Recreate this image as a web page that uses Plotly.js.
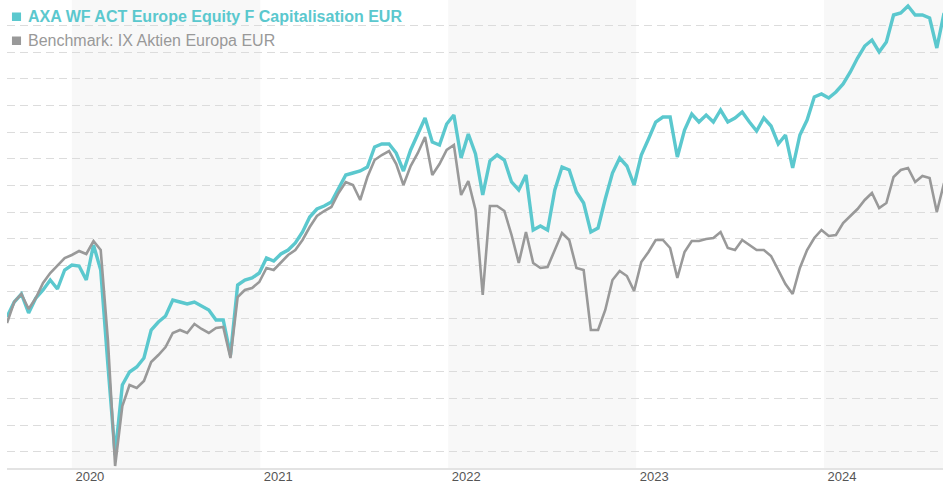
<!DOCTYPE html>
<html><head><meta charset="utf-8">
<script src="https://cdn.plot.ly/plotly-3.0.1.min.js"></script>
<style>html,body{margin:0;padding:0;background:#fff}#chart{width:943px;height:487px}</style>
</head><body><div id="chart"></div>
<script>
// Series: fortnightly index values (start = 100)
const startDate = [2019, 7, 28];   // 2019-08-28
const stepDays = 14;
const fundName = 'AXA WF ACT Europe Equity F Capitalisation EUR';
const benchName = 'Benchmark: IX Aktien Europa EUR';
const fundValues = [100.2,103.2,104.8,101.0,104.0,105.6,107.6,105.8,109.6,110.6,
 110.4,107.6,114.6,109.6,90.6,72.6,86.6,89.2,90.2,92.0,
 97.6,99.2,100.4,103.6,103.2,102.8,103.2,102.4,101.6,99.6,
 99.6,92.6,106.6,107.6,108.0,109.0,112.0,111.4,112.8,113.6,
 115.0,117.2,120.2,121.8,122.4,123.2,126.0,128.6,129.0,129.4,
 130.2,134.2,134.8,134.8,133.0,129.4,133.6,136.8,140.0,135.2,
 134.6,138.8,140.6,132.0,136.8,132.8,124.6,131.4,132.6,131.6,
 127.2,125.6,128.6,117.6,118.4,117.6,125.6,130.2,129.6,125.2,
 123.0,117.2,118.0,123.8,129.0,132.0,130.4,126.6,132.6,135.8,
 139.2,140.2,140.2,132.2,137.6,140.8,139.2,140.6,139.2,141.6,
 139.2,140.0,141.2,139.2,137.4,140.0,138.4,134.8,136.6,130.0,
 136.6,139.6,144.2,144.8,144.0,145.2,146.8,149.2,152.0,154.4,
 155.6,153.2,155.2,160.6,161.0,162.4,160.6,160.6,160.0,154.0,
 161.0];
const benchValues = [99.0,103.2,104.8,101.8,104.0,107.0,109.0,110.4,112.0,112.6,
 113.4,112.8,115.4,113.6,95.6,70.4,82.4,86.6,86.0,87.4,
 91.2,92.6,94.2,97.0,97.6,97.0,98.8,97.8,97.0,98.0,
 98.2,92.0,104.2,105.6,106.0,107.2,110.0,109.6,111.2,112.6,
 113.6,115.6,118.2,120.4,121.4,122.2,125.0,127.2,126.6,123.6,
 128.2,131.6,132.6,133.4,130.8,126.6,130.4,133.0,136.2,128.6,
 130.8,133.6,134.6,124.6,127.4,121.6,104.6,122.4,122.4,121.4,
 116.6,111.0,117.2,111.0,110.0,110.2,113.6,117.0,115.6,110.0,
 109.6,97.6,97.6,101.6,107.6,109.4,108.4,105.4,111.2,113.2,
 115.6,115.6,114.0,108.0,113.2,115.4,115.4,115.8,116.0,117.2,
 114.0,113.6,115.6,114.6,113.6,113.6,112.4,109.6,106.8,104.8,
 110.0,113.6,116.0,117.6,116.4,116.6,119.0,120.4,121.8,123.6,
 125.0,122.0,123.0,128.2,129.6,130.0,127.2,128.4,128.0,121.2,
 127.0];
const yearTicks = ['2020-01-01','2021-01-01','2022-01-01','2023-01-01','2024-01-01'];
const yearLabels = ['2020','2021','2022','2023','2024'];
const shadedYears = [['2020-01-01','2021-01-01'],['2022-01-01','2023-01-01'],['2024-01-01','2024-08-19']];
const xRange = ['2019-08-28','2024-08-19'];

const dates = fundValues.map((_, i) => {
  const d = new Date(Date.UTC(startDate[0], startDate[1], startDate[2]) + i * stepDays * 86400000);
  return d.toISOString().slice(0, 10);
});

const teal = '#5bc8ce';
const grey = '#999999';

const traces = [
  {x: dates, y: fundValues, type: 'scatter', mode: 'lines', name: fundName,
   line: {color: teal, width: 3.4}, hoverinfo: 'skip'},
  {x: dates, y: benchValues, type: 'scatter', mode: 'lines', name: benchName,
   line: {color: grey, width: 2.6}, hoverinfo: 'skip'}
];

const shapes = shadedYears.map(b => ({type: 'rect', xref: 'x', yref: 'paper', x0: b[0], x1: b[1], y0: 0, y1: 1,
  fillcolor: '#f8f8f8', line: {width: 0}, layer: 'below'}));
// legend squares
shapes.push({type: 'rect', xref: 'paper', yref: 'paper', x0: 0.0053, x1: 0.0150, y0: 0.9551, y1: 0.9733,
  fillcolor: teal, line: {width: 0}});
shapes.push({type: 'rect', xref: 'paper', yref: 'paper', x0: 0.0053, x1: 0.0150, y0: 0.9038, y1: 0.9220,
  fillcolor: grey, line: {width: 0}});

const layout = {
  width: 943, height: 487,
  margin: {l: 7, r: 0, t: 0, b: 19, pad: 0},
  paper_bgcolor: '#ffffff', plot_bgcolor: '#ffffff',
  showlegend: false,
  font: {family: 'Arial, "Liberation Sans", sans-serif', color: '#555'},
  xaxis: {type: 'date', range: xRange, tickvals: yearTicks, ticktext: yearLabels,
    ticklabelshift: 18, ticklabelstandoff: -5, ticks: '', showgrid: false, zeroline: false,
    showline: true, linecolor: '#e3e3e3', linewidth: 2,
    tickfont: {size: 13, color: '#555'}},
  yaxis: {range: [70, 163.6], tick0: 73.26, dtick: 5.325, showticklabels: false, ticks: '',
    showgrid: true, gridcolor: '#dcdcdc', gridwidth: 1, griddash: '8px,5px', zeroline: false, showline: false},
  shapes: shapes,
  annotations: [
    {xref: 'paper', yref: 'paper', x: 0.0203, y: 0.9647, xanchor: 'left', yanchor: 'middle', showarrow: false,
     text: '<b>' + fundName + '</b>', font: {size: 16, color: teal, family: 'Arial, "Liberation Sans", sans-serif'}},
    {xref: 'paper', yref: 'paper', x: 0.0203, y: 0.9124, xanchor: 'left', yanchor: 'middle', showarrow: false,
     text: benchName, font: {size: 16, color: grey, family: 'Arial, "Liberation Sans", sans-serif'}}
  ]
};

Plotly.newPlot('chart', traces, layout, {staticPlot: true, displayModeBar: false});
</script>
</body></html>
